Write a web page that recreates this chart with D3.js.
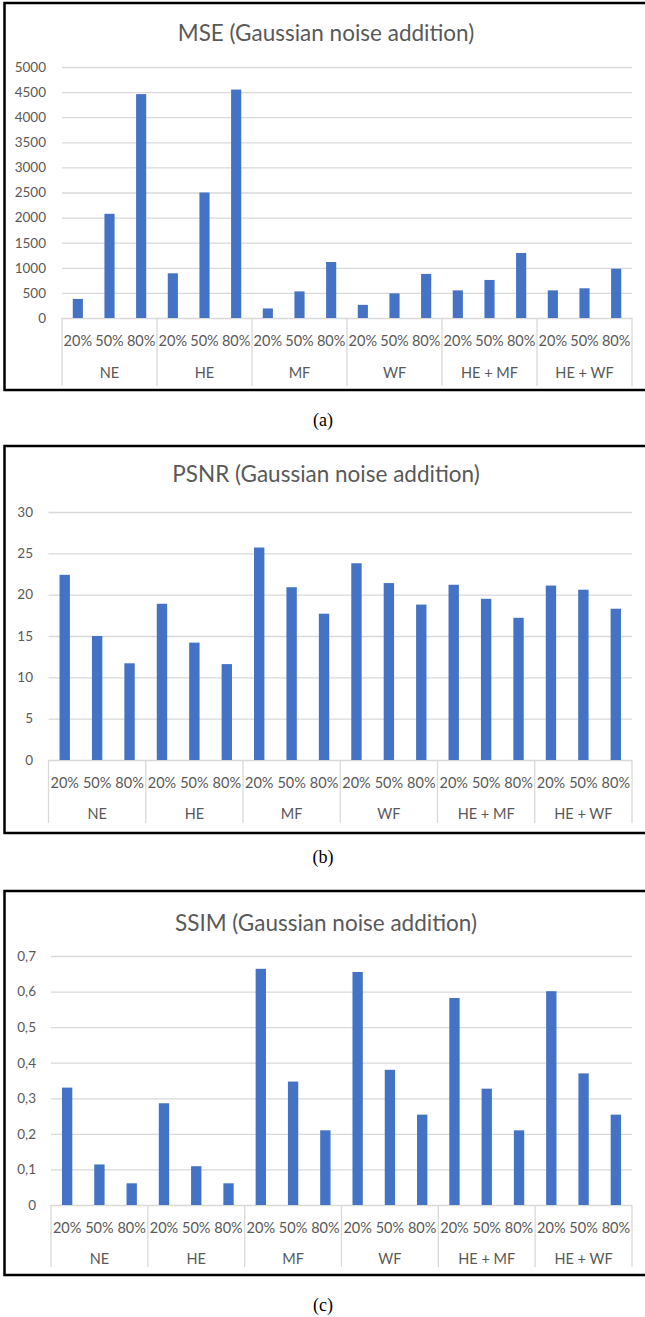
<!DOCTYPE html>
<html>
<head>
<meta charset="utf-8">
<script src="https://cdn.jsdelivr.net/npm/d3@7"></script>
<style>
  body { margin: 0; background: #fff; }
  svg { display: block; }
  text { font-family: Lato, "Open Sans", sans-serif; fill: #595959; }
  .caption { font-family: "Liberation Serif", "DejaVu Serif", serif; fill: #000; }
</style>
</head>
<body>
<div id="chart"></div>
<script>
// Data
const groups = ['NE', 'HE', 'MF', 'WF', 'HE + MF', 'HE + WF'];
const levels = ['20%', '50%', '80%'];

const mseValues = [380, 2075, 4460, 890, 2500, 4550, 190, 530, 1115, 262, 490, 878, 550, 758, 1295, 550, 592, 982];
const psnrValues = [22.4, 15.0, 11.7, 18.9, 14.2, 11.6, 25.7, 20.9, 17.7, 23.8, 21.4, 18.8, 21.2, 19.5, 17.2, 21.1, 20.6, 18.3];
const ssimValues = [0.330, 0.114, 0.061, 0.286, 0.109, 0.061, 0.664, 0.347, 0.210, 0.655, 0.380, 0.254, 0.582, 0.327, 0.210, 0.601, 0.370, 0.254];

const mseTicks = [0, 500, 1000, 1500, 2000, 2500, 3000, 3500, 4000, 4500, 5000];
const psnrTicks = [0, 5, 10, 15, 20, 25, 30];
const ssimTicks = [0, 0.1, 0.2, 0.3, 0.4, 0.5, 0.6, 0.7];

const titles = ['MSE (Gaussian noise addition)', 'PSNR (Gaussian noise addition)', 'SSIM (Gaussian noise addition)'];
const captions = ['(a)', '(b)', '(c)'];

const W = 645, H = 1317;
const barColor = '#4472C4';
const gridColor = '#d9d9d9';

const svg = d3.select('#chart')
    .append('svg')
    .attr('width', W)
    .attr('height', H);

svg.append('rect').attr('width', W).attr('height', H).attr('fill', '#fff');

// panel layout (pixels)
const panels = [
    { values: mseValues, ticks: mseTicks, fmt: d => String(d),
      frameY: 3, frameH: 387, titleY: 32, left: 62, right: 632,
      top: 67, bottom: 318, labelX: 46, levelY: 340, groupY: 372, sepBottom: 386, captionY: 420 },
    { values: psnrValues, ticks: psnrTicks, fmt: d => String(d),
      frameY: 446, frameH: 387, titleY: 473, left: 48.5, right: 632,
      top: 512, bottom: 760, labelX: 33, levelY: 782, groupY: 813, sepBottom: 823, captionY: 857 },
    { values: ssimValues, ticks: ssimTicks, fmt: d => d === 0 ? '0' : d3.format('.1f')(d).replace('.', ','),
      frameY: 891, frameH: 384, titleY: 922, left: 51, right: 632,
      top: 956, bottom: 1205, labelX: 36, levelY: 1227, groupY: 1258, sepBottom: 1267, captionY: 1305 }
];

panels.forEach((p, i) => {
    const g = svg.append('g');

    // frame
    g.append('rect')
        .attr('x', 4.5)
        .attr('y', p.frameY)
        .attr('width', 645)
        .attr('height', p.frameH)
        .attr('fill', 'none')
        .attr('stroke', '#000')
        .attr('stroke-width', 2.5);

    // title
    g.append('text')
        .attr('x', 326)
        .attr('y', p.titleY)
        .attr('text-anchor', 'middle')
        .attr('dominant-baseline', 'central')
        .style('font-size', '22.5px')
        .text(titles[i]);

    // scales
    const x0 = d3.scaleBand().domain(groups).range([p.left, p.right]);
    const x1 = d3.scaleBand().domain(levels).range([0, x0.bandwidth()]);
    const y = d3.scaleLinear()
        .domain([0, d3.max(p.ticks)])
        .range([p.bottom, p.top]);

    // grid lines + y labels
    const yAxis = g.append('g')
        .attr('transform', `translate(${p.left},0)`)
        .call(d3.axisLeft(y)
            .tickValues(p.ticks)
            .tickSize(-(p.right - p.left))
            .tickPadding(p.left - p.labelX)
            .tickFormat(p.fmt));
    yAxis.select('.domain').remove();
    yAxis.selectAll('line').attr('stroke', gridColor).attr('stroke-width', 1.3);
    yAxis.selectAll('text')
        .attr('fill', '#595959')
        .style('font-size', '13.5px')
        .style('font-family', 'Lato, sans-serif');

    // bars
    const data = [];
    groups.forEach((grp, gi) => {
        levels.forEach((lv, li) => {
            data.push({ grp, lv, value: p.values[gi * 3 + li] });
        });
    });
    const bw = x1.bandwidth() * 0.32;

    g.selectAll('.bar')
        .data(data)
        .join('rect')
        .attr('class', 'bar')
        .attr('x', d => x0(d.grp) + x1(d.lv) + (x1.bandwidth() - bw) / 2)
        .attr('y', d => y(d.value))
        .attr('width', bw)
        .attr('height', d => y(0) - y(d.value))
        .attr('fill', barColor);

    // category separators
    const seps = groups.map(grp => x0(grp)).concat([p.right]);
    g.selectAll('.sep')
        .data(seps)
        .join('line')
        .attr('class', 'sep')
        .attr('x1', d => d).attr('x2', d => d)
        .attr('y1', p.bottom).attr('y2', p.sepBottom)
        .attr('stroke', gridColor)
        .attr('stroke-width', 1.3);

    // level labels
    g.selectAll('.lvl')
        .data(data)
        .join('text')
        .attr('class', 'lvl')
        .attr('x', d => x0(d.grp) + x1(d.lv) + x1.bandwidth() / 2)
        .attr('y', p.levelY)
        .attr('text-anchor', 'middle')
        .attr('dominant-baseline', 'central')
        .style('font-size', '14.5px')
        .text(d => d.lv);

    // group labels
    g.selectAll('.grp')
        .data(groups)
        .join('text')
        .attr('class', 'grp')
        .attr('x', d => x0(d) + x0.bandwidth() / 2)
        .attr('y', p.groupY)
        .attr('text-anchor', 'middle')
        .attr('dominant-baseline', 'central')
        .style('font-size', '14.5px')
        .text(d => d);

    // caption
    svg.append('text')
        .attr('class', 'caption')
        .attr('x', 323)
        .attr('y', p.captionY)
        .attr('text-anchor', 'middle')
        .attr('dominant-baseline', 'central')
        .style('font-size', '18px')
        .text(captions[i]);
});
</script>
</body>
</html>
